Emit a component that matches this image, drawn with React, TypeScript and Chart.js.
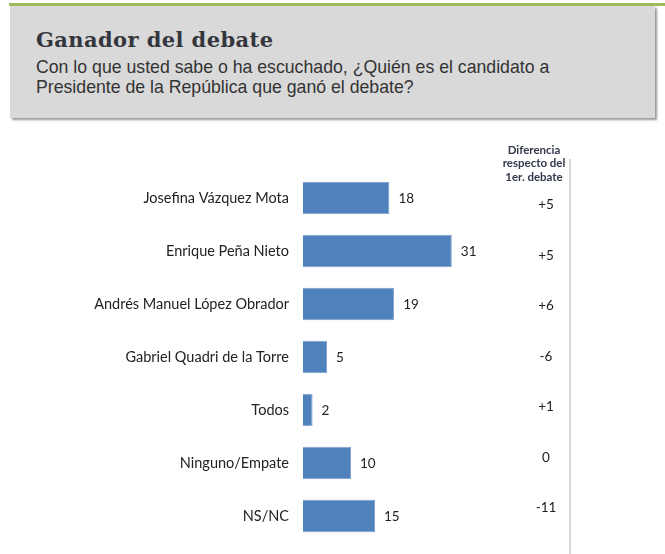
import React, { useEffect, useRef } from "react";
import { Chart, registerables } from "chart.js";

Chart.register(...registerables);

const categories = [
  "Josefina Vázquez Mota",
  "Enrique Peña Nieto",
  "Andrés Manuel López Obrador",
  "Gabriel Quadri de la Torre",
  "Todos",
  "Ninguno/Empate",
  "NS/NC",
];
const values = [18, 31, 19, 5, 2, 10, 15];
const differences = ["+5", "+5", "+6", "-6", "+1", "0", "-11"];
const diffHeader = ["Diferencia", "respecto del", "1er. debate"];
const title = "Ganador del debate";
const subtitle = [
  "Con lo que usted sabe o ha escuchado, ¿Quién es el candidato a",
  "Presidente de la República que ganó el debate?",
];

const labelFont = "Lato, 'Open Sans', sans-serif";

const valueLabels = {
  id: "valueLabels",
  afterDatasetsDraw(chart: any) {
    const ctx = chart.ctx;
    const meta = chart.getDatasetMeta(0);
    ctx.save();
    ctx.font = `13.5px ${labelFont}`;
    ctx.fillStyle = "#222";
    ctx.textAlign = "left";
    ctx.textBaseline = "middle";
    meta.data.forEach((bar: any, i: number) => {
      ctx.fillText(String(values[i]), bar.x + 9, bar.y + 1);
    });
    // difference column
    const n = meta.data.length;
    const y0 = meta.data[0].y + 7;
    const y1 = meta.data[n - 1].y - 8;
    ctx.textAlign = "center";
    ctx.font = `13.5px ${labelFont}`;
    differences.forEach((d, i) => {
      const y = y0 + ((y1 - y0) * i) / (n - 1);
      ctx.fillText(d, 546, y);
    });
    ctx.font = `bold 11.5px ${labelFont}`;
    ctx.fillStyle = "#33384a";
    diffHeader.forEach((h, i) => {
      ctx.fillText(h, 534, 150 + i * 13.5);
    });
    // separator line
    ctx.strokeStyle = "#d8d8d8";
    ctx.lineWidth = 2;
    ctx.beginPath();
    ctx.moveTo(570, 159);
    ctx.lineTo(570, 554);
    ctx.stroke();
    ctx.restore();
  },
};

export default function App() {
  const ref = useRef<HTMLCanvasElement>(null);
  useEffect(() => {
    if (!ref.current) return;
    const chart = new Chart(ref.current, {
      type: "bar",
      data: {
        labels: categories,
        datasets: [
          {
            data: values,
            backgroundColor: "#4F81BD",
            borderColor: "#7fa3d0",
            borderWidth: 1,
            barPercentage: 0.61,
            categoryPercentage: 1,
          },
        ],
      },
      options: {
        indexAxis: "y",
        responsive: false,
        animation: false,
        layout: { padding: { left: 0, right: 170, top: 171.5, bottom: 11.5 } },
        plugins: { legend: { display: false }, tooltip: { enabled: false } },
        scales: {
          x: { display: false, min: 0, max: 40 },
          y: {
            grid: { display: false },
            border: { display: false },
            ticks: {
              color: "#222",
              font: { family: labelFont, size: 14.5 },
              padding: 6,
            },
            afterFit: (s: any) => {
              s.width = 303;
              s.paddingTop = 0;
              s.paddingBottom = 0;
            },
          },
        },
      },
      plugins: [valueLabels],
    });
    return () => chart.destroy();
  }, []);

  return (
    <div style={{ position: "absolute", left: 0, top: 0, width: 665, height: 554, background: "#fff", overflow: "hidden" }}>
      <div style={{ position: "absolute", left: 9, top: 3, width: 656, height: 3, background: "#9bbb59" }} />
      <div
        style={{
          position: "absolute",
          left: 10,
          top: 6,
          width: 645,
          height: 112,
          background: "#d9d9d9",
          boxShadow: "2px 2px 2px #999",
        }}
      >
        <div
          style={{
            position: "absolute",
            left: 26,
            top: 21,
            fontFamily: "'DejaVu Serif', serif",
            fontWeight: "bold",
            fontSize: 21,
            lineHeight: "26px",
            color: "#34363d",
            letterSpacing: 0.4,
          }}
        >
          {title}
        </div>
        <div
          style={{
            position: "absolute",
            left: 26,
            top: 51,
            fontFamily: "'Liberation Sans', Arial, sans-serif",
            fontSize: 17.7,
            lineHeight: "20px",
            color: "#333",
            whiteSpace: "nowrap",
          }}
        >
          {subtitle.map((s, i) => (
            <div key={i}>{s}</div>
          ))}
        </div>
      </div>
      <canvas ref={ref} width={665} height={554} style={{ position: "absolute", left: 0, top: 0 }} />
    </div>
  );
}
